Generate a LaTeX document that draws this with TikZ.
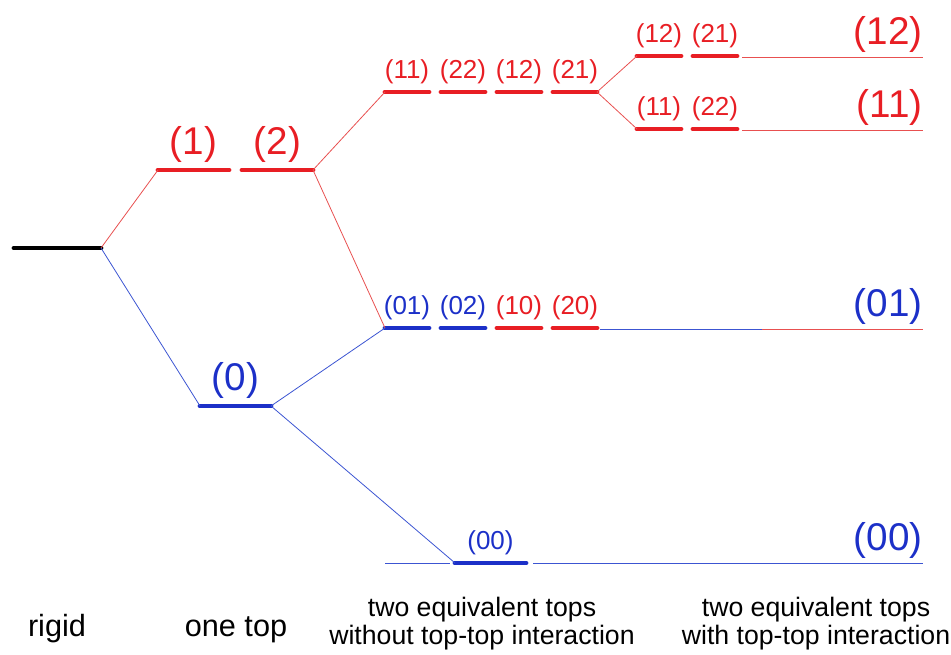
\documentclass[tikz,border=0pt]{standalone}
\usepackage{fontspec}
\setmainfont{Liberation Sans}
\usetikzlibrary{calc}
\definecolor{lvred}{RGB}{232,30,36}
\definecolor{lvblue}{RGB}{28,48,200}
\definecolor{lnred}{RGB}{232,80,80}
\definecolor{lnblue}{RGB}{60,85,210}

\begin{document}
\begin{tikzpicture}[
  x=0.75pt, y=-0.75pt,
  level/.style={line width=3.6pt, line cap=round},
  link/.style={line width=0.6pt},
  big/.style={font=\fontsize{29}{30}\selectfont, inner sep=0pt, anchor=base},
  small/.style={font=\fontsize{19.5}{20}\selectfont, inner sep=0pt, anchor=base},
  caption/.style={font=\fontsize{20}{21}\selectfont, align=center, inner sep=0pt, anchor=base}]

\useasboundingbox (0,0) rectangle (951,655);

% ---- rigid molecule ------------------------------------------------------
\draw[level, black] (14,248) coordinate (R-l) -- (101,248) coordinate (R-r);

% ---- one internal top ----------------------------------------------------
\draw[level, lvred] (158,170) coordinate (A1-l) --
      node[midway, big, text=lvred, yshift=11.25pt] {(1)} (229,170) coordinate (A1-r);
\draw[level, lvred] (242,170) coordinate (A2-l) --
      node[midway, big, text=lvred, yshift=11.25pt] {(2)} (313,170) coordinate (A2-r);
\draw[level, lvblue] (200,406) coordinate (A0-l) --
      node[midway, big, text=lvblue, yshift=11.25pt] {(0)} (271,406) coordinate (A0-r);

% ---- two tops, no coupling -----------------------------------------------
\foreach \lab/\x/\col in {11/385/lvred, 22/441/lvred, 12/497/lvred, 21/553/lvred}{
  \draw[level, \col] (\x,92) coordinate (T\lab-l) --
        node[midway, small, text=\col, yshift=9.75pt] {(\lab)} ++(44,0) coordinate (T\lab-r);
}
\foreach \lab/\x/\col in {01/385/lvblue, 02/441/lvblue, 10/497/lvred, 20/553/lvred}{
  \draw[level, \col] (\x,328) coordinate (D\lab-l) --
        node[midway, small, text=\col, yshift=9.75pt] {(\lab)} ++(44,0) coordinate (D\lab-r);
}
\draw[level, lvblue] (455,563) coordinate (Z-l) --
      node[midway, small, text=lvblue, yshift=9.75pt] {(00)} (526,563) coordinate (Z-r);

% ---- two tops, coupled ---------------------------------------------------
\foreach \lab/\x in {12/637, 21/693}{
  \draw[level, lvred] (\x,56) coordinate (U\lab-l) --
        node[midway, small, text=lvred, yshift=9.75pt] {(\lab)} ++(44,0) coordinate (U\lab-r);
}
\foreach \lab/\x in {11/637, 22/693}{
  \draw[level, lvred] (\x,129) coordinate (V\lab-l) --
        node[midway, small, text=lvred, yshift=9.75pt] {(\lab)} ++(44,0) coordinate (V\lab-r);
}

% ---- thin levels on the right, with their labels -------------------------
\coordinate (E12-l) at (742,57);  \coordinate (E12-r) at (923,57);
\coordinate (E11-l) at (742,130); \coordinate (E11-r) at (923,130);
\coordinate (E01-l) at (600,329); \coordinate (E01-m) at (762,329); \coordinate (E01-r) at (923,329);
\coordinate (E00-a) at (385,563); \coordinate (E00-b) at (450,563);
\coordinate (E00-l) at (533,563); \coordinate (E00-r) at (923,563);

\draw[link, lnred]  (E12-l) -- (E12-r) node[big, text=lvred, anchor=base east, yshift=9pt] {(12)};
\draw[link, lnred]  (E11-l) -- (E11-r) node[big, text=lvred, anchor=base east, yshift=9pt] {(11)};
\draw[link, lnblue] (E01-l) -- (E01-m);
\draw[link, lnred]  (E01-m) -- (E01-r) node[big, text=lvblue, anchor=base east, yshift=9pt] {(01)};
\draw[link, lnblue] (E00-a) -- (E00-b);
\draw[link, lnblue] (E00-l) -- (E00-r) node[big, text=lvblue, anchor=base east, yshift=9pt] {(00)};

% ---- correlation lines ---------------------------------------------------
\draw[link, lnred]  (R-r) -- (A1-l);
\draw[link, lnblue] (R-r) -- (A0-l);
\draw[link, lnred]  (A2-r) -- (T11-l);
\draw[link, lnred]  (A2-r) -- (D01-l);
\draw[link, lnblue] (A0-r) -- (D01-l);
\draw[link, lnblue] (A0-r) -- (Z-l);
\draw[link, lnred]  (T21-r) -- (U12-l);
\draw[link, lnred]  (T21-r) -- (V11-l);

% ---- column captions -----------------------------------------------------
\node[caption, font=\fontsize{23}{24}\selectfont] (c-rigid) at (57,637)  {rigid};
\node[caption, font=\fontsize{23}{24}\selectfont] (c-one)   at (236,637) {one top};
\node[caption] (c-free) at (482,645) {two equivalent tops\\without top-top interaction};
\node[caption] (c-coup) at (816,645) {two equivalent tops\\with top-top interaction};

\end{tikzpicture}
\end{document}
